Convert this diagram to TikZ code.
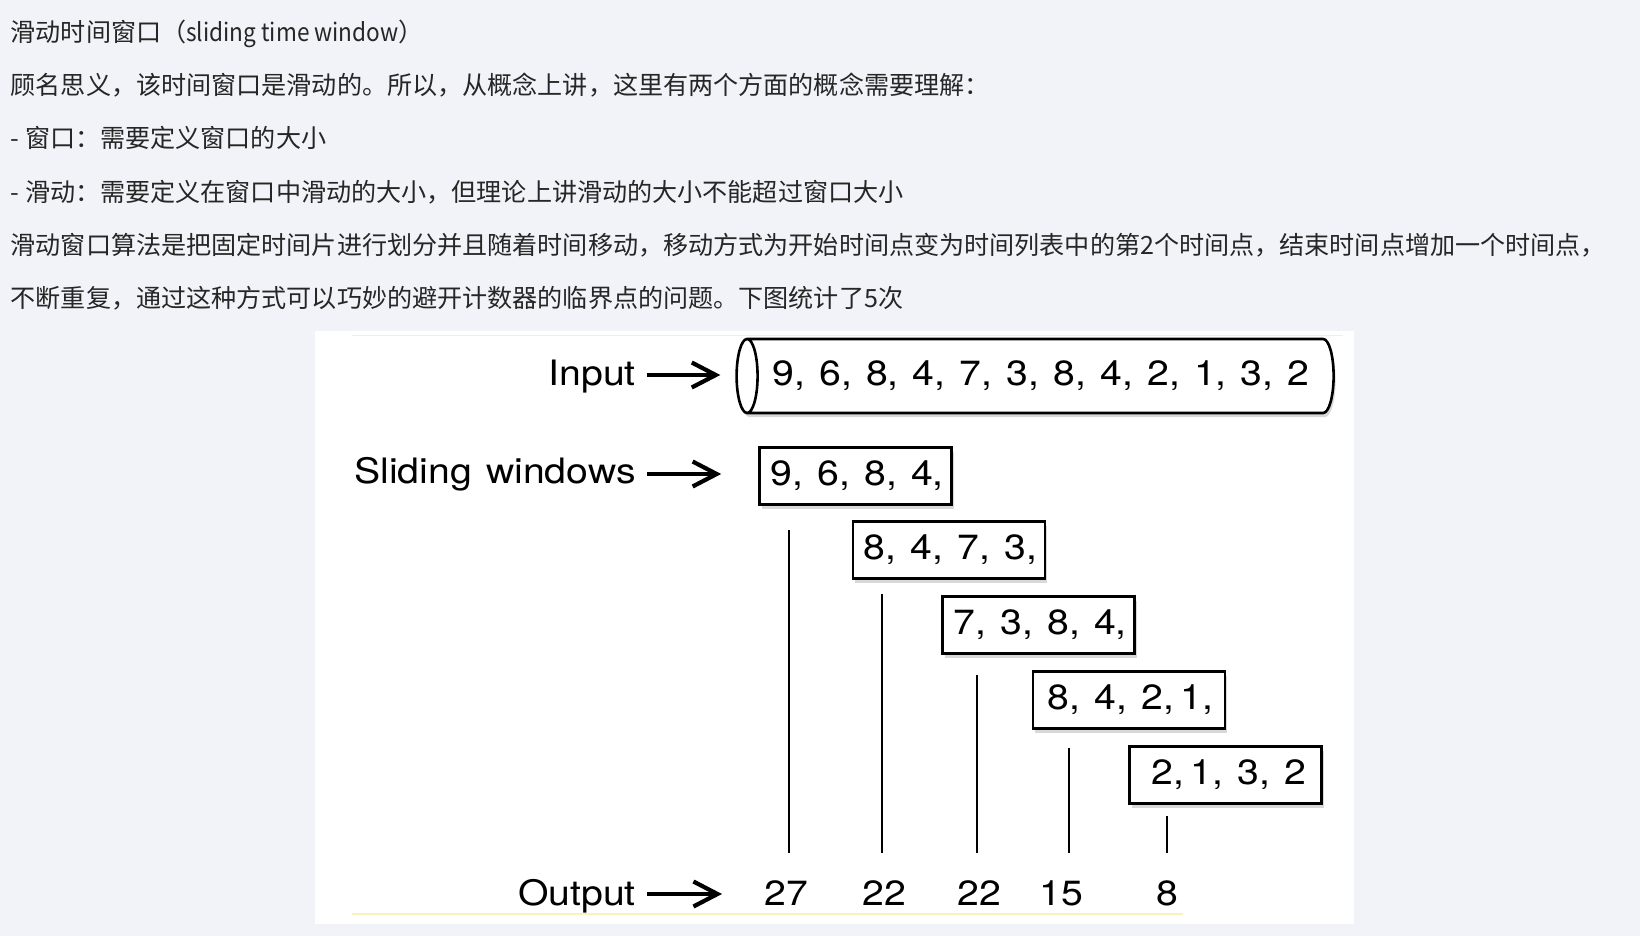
\documentclass[tikz,border=0pt]{standalone}
\usepackage{fontspec}
\usepackage{graphicx}
\setmainfont{TeX Gyre Heros}
\newfontfamily\cjk{Noto Sans CJK SC}
\newfontfamily\hv[WordSpace=1.3]{TeX Gyre Heros}
\usetikzlibrary{arrows.meta,shapes,positioning,shadows}
\definecolor{pagebg}{RGB}{242,243,248}
\definecolor{txtgray}{RGB}{38,38,38}
\definecolor{paleyellow}{RGB}{248,242,190}
\newcommand{\stretchx}[1]{\scalebox{1.12}[1]{#1}}
\newcommand{\narrowx}[1]{\scalebox{0.9}[1]{#1}}
\tikzstyle{arrow} = [line width=3.3pt,-{Straight Barb[length=24pt,width=25pt,line width=4.2pt]}]
\tikzstyle{para} = [anchor=base west,inner sep=0pt,text=txtgray,font=\cjk\fontsize{25.1}{30}\selectfont]
\tikzstyle{lefttext} = [anchor=base east,inner sep=0pt,font=\hv\fontsize{35}{40}\selectfont]
\tikzstyle{winbox} = [draw,line width=2.6pt,fill=white,minimum width=192pt,minimum height=57pt,inner sep=0pt,font=\hv\fontsize{35}{40}\selectfont,drop shadow={shadow xshift=2pt,shadow yshift=-4pt,opacity=0.3}]
\tikzstyle{bar} = [line width=2pt]
\tikzstyle{num} = [anchor=base,inner sep=0pt,font=\hv\fontsize{35}{40}\selectfont]

\begin{document}
\begin{tikzpicture}[x=1pt,y=-1pt]
\useasboundingbox[fill=pagebg] (0,0) rectangle (1640,936);

% Text above the picture
\foreach \t [count=\i] in {{滑动时间窗口（\narrowx{sliding time window}）},
  {顾名思义，该时间窗口是滑动的。所以，从概念上讲，这里有两个方面的概念需要理解：},
  {- 窗口：需要定义窗口的大小},
  {- 滑动：需要定义在窗口中滑动的大小，但理论上讲滑动的大小不能超过窗口大小},
  {滑动窗口算法是把固定时间片进行划分并且随着时间移动，移动方式为开始时间点变为时间列表中的第2个时间点，结束时间点增加一个时间点，},
  {不断重复，通过这种方式可以巧妙的避开计数器的临界点的问题。下图统计了5次}}
  \node[para] (p\i) at (10.5,{41.8+53.1*(\i-1)}) {\t};

% White panel
\fill[white] (315,331) rectangle (1354,924);
\draw[paleyellow,line width=1.5pt] (352,335.7) -- (1343,335.7);
\draw[paleyellow,line width=1.5pt] (352,914) -- (1183,914);

% Input
\node[cylinder,shape border rotate=180,draw,line width=2.6pt,fill=white,
  minimum height=597pt,minimum width=74pt,aspect=0.7,inner sep=0pt,
  font=\hv\fontsize{35}{40}\selectfont,
  drop shadow={shadow xshift=2pt,shadow yshift=-4pt,opacity=0.3}]
  (inp) at (1041,376) {\stretchx{9, 6, 8, 4, 7, 3, 8, 4, 2, 1, 3, 2}};
\node[lefttext] (inlbl) at (636,385) {\stretchx{Input}};
\draw[arrow,shorten >=15pt] ([shift={(11pt,10pt)}]inlbl.base east) -- (inp.west |- 0,375);

% Sliding windows
\node[winbox] (w1) at (855.5,476) {\stretchx{\kern3pt9, 6, 8, 4,}};
\node[winbox] (w2) at (948.8,550) {\stretchx{\kern3pt8, 4, 7, 3,}};
\node[winbox] (w3) at (1038.5,625) {\stretchx{\kern3pt7, 3, 8, 4,}};
\node[winbox] (w4) at (1129,700) {\stretchx{\kern3pt8, 4, 2,\,1,}};
\node[winbox] (w5) at (1225.5,775) {\stretchx{\kern6pt2,\,1, 3, 2}};
\node[lefttext] (swlbl) at (636,483) {\stretchx{Sliding windows}};
\draw[arrow,shorten >=37pt] ([shift={(11pt,9pt)}]swlbl.base east) -- (w1.west |- 0,474);

% Output
\node[num] (o1) at (786,905) {\stretchx{27}};
\node[num] (o2) at (884,905) {\stretchx{22}};
\node[num] (o3) at (979,905) {\stretchx{22}};
\node[num] (o4) at (1061,905) {\stretchx{15}};
\node[num] (o5) at (1167,905) {\stretchx{8}};
\node[lefttext] (outlbl) at (636,905) {\stretchx{Output}};
\draw[arrow,shorten >=42pt] ([shift={(11pt,11pt)}]outlbl.base east) -- (o1.west |- 0,894);

% Sums
\coordinate (bot) at (0,852.7);
\foreach \x/\y [count=\i] in {789/530,882/594,977/675,1069/748,1167/816}
  \draw[bar] (\x,\y) coordinate (t\i) -- (t\i |- bot);
\end{tikzpicture}
\end{document}
